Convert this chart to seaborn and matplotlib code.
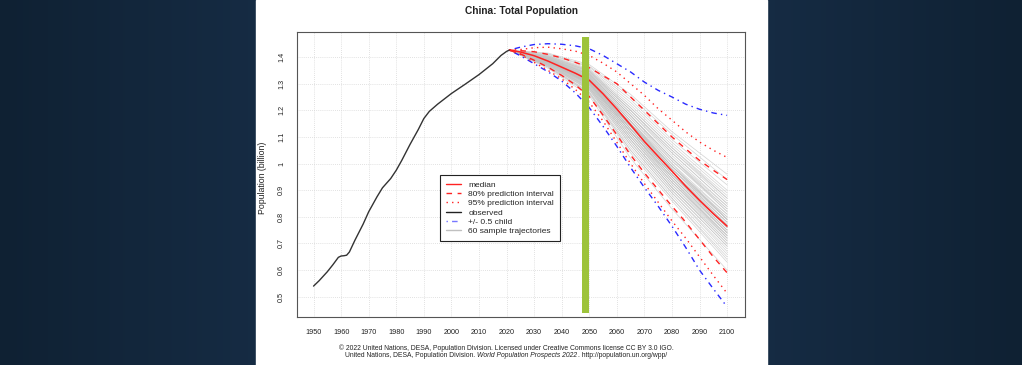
import numpy as np
import pandas as pd
import matplotlib.pyplot as plt
import matplotlib.patches as mpatches
from matplotlib.lines import Line2D
import seaborn as sns

# ==========================================
# DATA (billions)
# ==========================================
obs_years = [1950, 1952, 1955, 1957, 1959, 1960, 1961, 1962, 1963, 1965, 1968,
             1970, 1973, 1975, 1978, 1980, 1982, 1985, 1988, 1990, 1992, 1995,
             2000, 2005, 2010, 2015, 2018, 2020, 2021]
obs_pop = [0.540, 0.560, 0.594, 0.620, 0.648, 0.653, 0.654, 0.656, 0.668, 0.712, 0.773,
           0.819, 0.875, 0.909, 0.944, 0.975, 1.012, 1.072, 1.128, 1.169, 1.196, 1.223,
           1.263, 1.298, 1.334, 1.375, 1.406, 1.421, 1.426]

proj_years = [2021, 2025, 2030, 2035, 2040, 2045, 2050, 2055, 2060, 2065,
              2070, 2075, 2080, 2085, 2090, 2095, 2100]
median = [1.426, 1.419, 1.405, 1.385, 1.362, 1.339, 1.313, 1.262, 1.205, 1.145,
          1.083, 1.027, 0.972, 0.915, 0.862, 0.812, 0.765]
pi80_high = [1.426, 1.424, 1.420, 1.410, 1.397, 1.380, 1.360, 1.330, 1.300, 1.250,
             1.200, 1.150, 1.100, 1.055, 1.012, 0.975, 0.940]
pi80_low = [1.426, 1.412, 1.388, 1.362, 1.331, 1.295, 1.252, 1.182, 1.108, 1.032,
            0.965, 0.902, 0.840, 0.780, 0.715, 0.650, 0.590]
pi95_high = [1.426, 1.428, 1.435, 1.437, 1.431, 1.422, 1.406, 1.377, 1.344, 1.300,
             1.256, 1.206, 1.163, 1.119, 1.081, 1.050, 1.023]
pi95_low = [1.426, 1.410, 1.380, 1.350, 1.318, 1.278, 1.230, 1.160, 1.080, 1.000,
            0.925, 0.855, 0.785, 0.720, 0.650, 0.580, 0.513]
child_high = [1.426, 1.437, 1.447, 1.450, 1.448, 1.442, 1.431, 1.406, 1.375, 1.344,
              1.306, 1.275, 1.250, 1.223, 1.204, 1.190, 1.181]
child_low = [1.426, 1.405, 1.375, 1.345, 1.310, 1.265, 1.210, 1.140, 1.065, 0.985,
             0.910, 0.840, 0.765, 0.685, 0.600, 0.530, 0.462]

# 60 sample trajectories (values at traj_years after the shared 2021 start)
traj_years = [2021, 2035, 2050, 2065, 2080, 2100]
traj_start = 1.426
sample_traj = [
    [1.388, 1.318, 1.15, 0.98, 0.78], [1.380, 1.300, 1.12, 0.95, 0.74],
    [1.395, 1.335, 1.18, 1.02, 0.82], [1.372, 1.285, 1.09, 0.91, 0.70],
    [1.400, 1.345, 1.20, 1.05, 0.86], [1.384, 1.308, 1.13, 0.96, 0.75],
    [1.366, 1.270, 1.06, 0.88, 0.66], [1.405, 1.352, 1.22, 1.07, 0.89],
    [1.390, 1.322, 1.16, 0.99, 0.80], [1.378, 1.296, 1.11, 0.93, 0.72],
    [1.392, 1.328, 1.17, 1.00, 0.79], [1.386, 1.312, 1.14, 0.97, 0.77],
    [1.375, 1.290, 1.10, 0.92, 0.71], [1.398, 1.340, 1.19, 1.03, 0.84],
    [1.362, 1.262, 1.04, 0.86, 0.63], [1.410, 1.362, 1.24, 1.09, 0.92],
    [1.383, 1.305, 1.12, 0.94, 0.73], [1.389, 1.316, 1.15, 0.99, 0.81],
    [1.370, 1.280, 1.08, 0.90, 0.69], [1.394, 1.332, 1.18, 1.01, 0.83],
    [1.381, 1.302, 1.13, 0.96, 0.76], [1.387, 1.314, 1.13, 0.95, 0.74],
    [1.402, 1.348, 1.21, 1.06, 0.87], [1.368, 1.276, 1.07, 0.89, 0.67],
    [1.391, 1.325, 1.16, 0.98, 0.78], [1.385, 1.310, 1.14, 0.98, 0.79],
    [1.376, 1.293, 1.10, 0.92, 0.72], [1.397, 1.338, 1.19, 1.04, 0.85],
    [1.358, 1.255, 1.02, 0.83, 0.60], [1.415, 1.372, 1.26, 1.12, 0.96],
    [1.382, 1.304, 1.12, 0.95, 0.75], [1.393, 1.330, 1.17, 1.01, 0.82],
    [1.379, 1.298, 1.11, 0.94, 0.74], [1.388, 1.319, 1.15, 0.97, 0.77],
    [1.373, 1.286, 1.09, 0.91, 0.70], [1.401, 1.346, 1.20, 1.04, 0.85],
    [1.384, 1.307, 1.14, 0.97, 0.78], [1.396, 1.336, 1.18, 1.02, 0.83],
    [1.365, 1.268, 1.05, 0.87, 0.65], [1.407, 1.356, 1.23, 1.08, 0.90],
    [1.386, 1.313, 1.14, 0.96, 0.76], [1.377, 1.294, 1.10, 0.93, 0.73],
    [1.390, 1.323, 1.16, 1.00, 0.81], [1.382, 1.303, 1.12, 0.94, 0.72],
    [1.399, 1.342, 1.20, 1.05, 0.87], [1.369, 1.278, 1.07, 0.89, 0.68],
    [1.392, 1.327, 1.16, 0.99, 0.79], [1.385, 1.311, 1.13, 0.96, 0.75],
    [1.374, 1.288, 1.09, 0.91, 0.71], [1.404, 1.350, 1.21, 1.06, 0.88],
    [1.388, 1.317, 1.15, 0.98, 0.80], [1.380, 1.301, 1.12, 0.95, 0.74],
    [1.363, 1.265, 1.05, 0.87, 0.64], [1.412, 1.366, 1.25, 1.11, 0.94],
    [1.389, 1.320, 1.15, 0.99, 0.79], [1.383, 1.306, 1.13, 0.96, 0.77],
    [1.395, 1.334, 1.18, 1.02, 0.84], [1.371, 1.283, 1.08, 0.90, 0.69],
    [1.387, 1.315, 1.14, 0.97, 0.76], [1.380, 1.299, 1.11, 0.93, 0.73],
]

x_ticks = list(range(1950, 2101, 10))
y_ticks = [0.5, 0.6, 0.7, 0.8, 0.9, 1.0, 1.1, 1.2, 1.3, 1.4]
y_tick_labels = ['0.5', '0.6', '0.7', '0.8', '0.9', '1', '1.1', '1.2', '1.3', '1.4']
highlight_year = 2050

# ==========================================
# STYLE
# ==========================================
sns.set_style('white')
plt.rcParams['font.family'] = ['Liberation Sans', 'DejaVu Sans']

RED = '#ff2222'
BLUE = '#2a2aff'
GREY = '#c0c0c0'
DASHED = (4, 4)
DOTTED = (1, 3)
DOTDASH = (1, 3, 4, 3)
TXT = '#222222'

fig = plt.figure(figsize=(10.22, 3.65), dpi=100)

# slide background + white panel
bg = fig.add_axes([0, 0, 1, 1])
xx = np.linspace(-1, 1, 400)
shade = np.abs(xx)[None, :, None]
dark = np.array([0.06, 0.13, 0.20])
light = np.array([0.11, 0.21, 0.33])
grad = light * (1 - shade) + dark * shade
bg.imshow(np.repeat(grad, 2, axis=0), aspect='auto', extent=[0, 1, 0, 1])
bg.add_patch(mpatches.Rectangle((256 / 1022, 0), 511 / 1022, 1, color='white'))
bg.set_xlim(0, 1)
bg.set_ylim(0, 1)
bg.axis('off')

ax = fig.add_axes([297 / 1022, 48 / 365, 448 / 1022, 285 / 365])
ax.set_facecolor('white')

# sample trajectories
rows = []
for i, tr in enumerate(sample_traj):
    for yr, v in zip(traj_years, [traj_start] + tr):
        rows.append({'traj': i, 'year': yr, 'pop': v})
df_traj = pd.DataFrame(rows)
sns.lineplot(data=df_traj, x='year', y='pop', units='traj', estimator=None,
             color=GREY, lw=0.5, alpha=0.7, ax=ax, legend=False)

# projection bands
df_proj = pd.DataFrame({'year': proj_years, 'median': median,
                        'lo80': pi80_low, 'hi80': pi80_high,
                        'lo95': pi95_low, 'hi95': pi95_high,
                        'lochild': child_low, 'hichild': child_high})
for col in ['lochild', 'hichild']:
    sns.lineplot(data=df_proj, x='year', y=col, color=BLUE, lw=1.0,
                 dashes=DOTDASH, ax=ax)
for col in ['lo95', 'hi95']:
    sns.lineplot(data=df_proj, x='year', y=col, color=RED, lw=1.0,
                 dashes=DOTTED, ax=ax)
for col in ['lo80', 'hi80']:
    sns.lineplot(data=df_proj, x='year', y=col, color=RED, lw=1.0,
                 dashes=DASHED, ax=ax)
sns.lineplot(data=df_proj, x='year', y='median', color=RED, lw=1.1, ax=ax)

# observed
df_obs = pd.DataFrame({'year': obs_years, 'pop': obs_pop})
sns.lineplot(data=df_obs, x='year', y='pop', color='#333333', lw=1.0, ax=ax)

# 2050 highlight bar
ax.axvspan(highlight_year - 2.5, highlight_year, ymin=0.014, ymax=0.982,
           color='#9dc33b', lw=0, zorder=10)

# axes cosmetics (R look)
ax.set_xlim(1944, 2106.5)
ax.set_ylim(0.424, 1.494)
ax.set_xticks(x_ticks)
ax.set_xticklabels([str(t) for t in x_ticks], fontsize=5.2)
ax.set_yticks(y_ticks)
ax.set_yticklabels(y_tick_labels, fontsize=5.2, rotation=90, va='center')
ax.grid(True, color='#d8d8d8', lw=0.6, linestyle=(0, (1, 1.5)))
ax.tick_params(axis='both', direction='out', length=3, width=0.6,
               color='#333333', pad=5.5, labelcolor=TXT)
for sp in ax.spines.values():
    sp.set_color('#555555')
    sp.set_linewidth(0.8)
ax.set_xlabel('')
ax.set_ylabel('Population (billion)', fontsize=6.3, color=TXT)
ax.yaxis.set_label_coords(-0.066, 0.49)

fig.text(521 / 1022, 1 - 11.5 / 365, 'China: Total Population',
         ha='center', va='center', fontsize=7.3, fontweight='bold', color=TXT)

# legend
handles = [
    Line2D([], [], color=RED, lw=1.0),
    Line2D([], [], color=RED, lw=1.0, dashes=DASHED),
    Line2D([], [], color=RED, lw=1.0, dashes=DOTTED),
    Line2D([], [], color=TXT, lw=1.0),
    Line2D([], [], color='#7777ff', lw=1.0, dashes=DOTDASH),
    Line2D([], [], color=GREY, lw=1.0),
]
labels = ['median', '80% prediction interval', '95% prediction interval',
          'observed', '+/- 0.5 child', '60 sample trajectories']
leg = ax.legend(handles, labels, loc='upper left', bbox_to_anchor=(0.319, 0.498),
                borderaxespad=0, fontsize=6.0, frameon=True, fancybox=False,
                edgecolor=TXT, framealpha=1, labelspacing=0.18,
                handlelength=1.8, handletextpad=0.9, borderpad=0.7)
leg.get_frame().set_linewidth(0.8)
leg.set_zorder(5)

# footer credits
fig.text(506 / 1022, 1 - 348.3 / 365,
         '\u00a9 2022 United Nations, DESA, Population Division. Licensed under '
         'Creative Commons license CC BY 3.0 IGO.',
         ha='center', va='center', fontsize=4.9, color=TXT)
fig.canvas.draw()
renderer = fig.canvas.get_renderer()
y2 = 1 - 355.5 / 365
parts = [('United Nations, DESA, Population Division. ', 'normal'),
         ('World Population Prospects 2022', 'italic'),
         ('. http://population.un.org/wpp/', 'normal')]
texts = []
for s, st in parts:
    texts.append(fig.text(0, y2, s, ha='left', va='center', fontsize=4.9,
                          style=st, color=TXT))
widths = [t.get_window_extent(renderer).width for t in texts]
x0 = 506 - sum(widths) / 2
for t, w in zip(texts, widths):
    t.set_x(x0 / 1022)
    x0 += w

fig.savefig('out.png', dpi=100)
